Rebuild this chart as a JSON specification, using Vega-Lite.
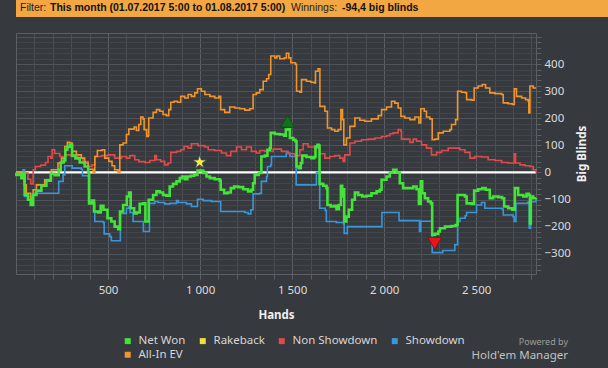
{
"$schema": "https://vega.github.io/schema/vega-lite/v6.json",
"background": "#36393d",
"padding": {"left": 0, "top": 0, "right": 0, "bottom": 10},
"spacing": 13,
"config": {
  "font": "Noto Sans",
  "view": {"stroke": null},
  "axis": {"labelFont": "Noto Sans", "titleFont": "Noto Sans"},
  "legend": {"labelFont": "Noto Sans"},
  "title": {"font": "Noto Sans", "subtitleFont": "Noto Sans"}
},
"datasets": {
  "lines": [
{"s":"Showdown","h":0,"v":0},{"s":"Showdown","h":33,"v":0},{"s":"Showdown","h":38,"v":10},{"s":"Showdown","h":47,"v":-89},{"s":"Showdown","h":93,"v":-85},{"s":"Showdown","h":98,"v":-77},{"s":"Showdown","h":228,"v":-77},{"s":"Showdown","h":232,"v":-33},{"s":"Showdown","h":256,"v":-9},{"s":"Showdown","h":265,"v":25},{"s":"Showdown","h":297,"v":25},{"s":"Showdown","h":305,"v":16},{"s":"Showdown","h":355,"v":12},{"s":"Showdown","h":361,"v":-12},{"s":"Showdown","h":392,"v":-15},{"s":"Showdown","h":395,"v":-107},{"s":"Showdown","h":424,"v":-114},{"s":"Showdown","h":428,"v":-181},{"s":"Showdown","h":473,"v":-185},{"s":"Showdown","h":479,"v":-227},{"s":"Showdown","h":509,"v":-237},{"s":"Showdown","h":518,"v":-252},{"s":"Showdown","h":562,"v":-252},{"s":"Showdown","h":567,"v":-151},{"s":"Showdown","h":600,"v":-132},{"s":"Showdown","h":614,"v":-126},{"s":"Showdown","h":620,"v":-148},{"s":"Showdown","h":636,"v":-181},{"s":"Showdown","h":685,"v":-181},{"s":"Showdown","h":692,"v":-218},{"s":"Showdown","h":721,"v":-218},{"s":"Showdown","h":725,"v":-114},{"s":"Showdown","h":754,"v":-107},{"s":"Showdown","h":772,"v":-111},{"s":"Showdown","h":808,"v":-116},{"s":"Showdown","h":835,"v":-114},{"s":"Showdown","h":872,"v":-104},{"s":"Showdown","h":881,"v":-111},{"s":"Showdown","h":926,"v":-116},{"s":"Showdown","h":953,"v":-126},{"s":"Showdown","h":980,"v":-126},{"s":"Showdown","h":986,"v":-99},{"s":"Showdown","h":1017,"v":-104},{"s":"Showdown","h":1062,"v":-107},{"s":"Showdown","h":1107,"v":-107},{"s":"Showdown","h":1112,"v":-144},{"s":"Showdown","h":1243,"v":-148},{"s":"Showdown","h":1261,"v":-153},{"s":"Showdown","h":1276,"v":-138},{"s":"Showdown","h":1288,"v":-79},{"s":"Showdown","h":1324,"v":-77},{"s":"Showdown","h":1333,"v":-33},{"s":"Showdown","h":1361,"v":-15},{"s":"Showdown","h":1366,"v":22},{"s":"Showdown","h":1384,"v":28},{"s":"Showdown","h":1388,"v":59},{"s":"Showdown","h":1460,"v":59},{"s":"Showdown","h":1468,"v":72},{"s":"Showdown","h":1488,"v":59},{"s":"Showdown","h":1518,"v":59},{"s":"Showdown","h":1522,"v":-46},{"s":"Showdown","h":1627,"v":-46},{"s":"Showdown","h":1632,"v":0},{"s":"Showdown","h":1645,"v":0},{"s":"Showdown","h":1650,"v":-132},{"s":"Showdown","h":1680,"v":-140},{"s":"Showdown","h":1686,"v":-181},{"s":"Showdown","h":1740,"v":-185},{"s":"Showdown","h":1780,"v":-190},{"s":"Showdown","h":1783,"v":-225},{"s":"Showdown","h":1800,"v":-200},{"s":"Showdown","h":1985,"v":-200},{"s":"Showdown","h":1988,"v":-148},{"s":"Showdown","h":2070,"v":-148},{"s":"Showdown","h":2081,"v":-178},{"s":"Showdown","h":2189,"v":-178},{"s":"Showdown","h":2192,"v":-218},{"s":"Showdown","h":2199,"v":-180},{"s":"Showdown","h":2258,"v":-182},{"s":"Showdown","h":2261,"v":-296},{"s":"Showdown","h":2318,"v":-288},{"s":"Showdown","h":2384,"v":-267},{"s":"Showdown","h":2399,"v":-181},{"s":"Showdown","h":2412,"v":-169},{"s":"Showdown","h":2440,"v":-160},{"s":"Showdown","h":2448,"v":-148},{"s":"Showdown","h":2495,"v":-148},{"s":"Showdown","h":2502,"v":-120},{"s":"Showdown","h":2529,"v":-111},{"s":"Showdown","h":2547,"v":-132},{"s":"Showdown","h":2640,"v":-135},{"s":"Showdown","h":2647,"v":-157},{"s":"Showdown","h":2700,"v":-163},{"s":"Showdown","h":2706,"v":-181},{"s":"Showdown","h":2716,"v":-114},{"s":"Showdown","h":2780,"v":-110},{"s":"Showdown","h":2788,"v":-206},{"s":"Showdown","h":2795,"v":-108},{"s":"Showdown","h":2825,"v":-100},
{"s":"Non Showdown","h":0,"v":0},{"s":"Non Showdown","h":29,"v":-15},{"s":"Non Showdown","h":47,"v":-2},{"s":"Non Showdown","h":65,"v":-25},{"s":"Non Showdown","h":80,"v":-42},{"s":"Non Showdown","h":93,"v":10},{"s":"Non Showdown","h":105,"v":22},{"s":"Non Showdown","h":134,"v":27},{"s":"Non Showdown","h":160,"v":37},{"s":"Non Showdown","h":174,"v":59},{"s":"Non Showdown","h":189,"v":53},{"s":"Non Showdown","h":196,"v":84},{"s":"Non Showdown","h":210,"v":70},{"s":"Non Showdown","h":238,"v":59},{"s":"Non Showdown","h":265,"v":65},{"s":"Non Showdown","h":301,"v":59},{"s":"Non Showdown","h":337,"v":53},{"s":"Non Showdown","h":364,"v":40},{"s":"Non Showdown","h":392,"v":22},{"s":"Non Showdown","h":413,"v":28},{"s":"Non Showdown","h":428,"v":59},{"s":"Non Showdown","h":464,"v":62},{"s":"Non Showdown","h":500,"v":65},{"s":"Non Showdown","h":536,"v":53},{"s":"Non Showdown","h":573,"v":59},{"s":"Non Showdown","h":600,"v":53},{"s":"Non Showdown","h":618,"v":62},{"s":"Non Showdown","h":645,"v":47},{"s":"Non Showdown","h":667,"v":40},{"s":"Non Showdown","h":700,"v":37},{"s":"Non Showdown","h":727,"v":44},{"s":"Non Showdown","h":754,"v":62},{"s":"Non Showdown","h":763,"v":47},{"s":"Non Showdown","h":786,"v":41},{"s":"Non Showdown","h":808,"v":28},{"s":"Non Showdown","h":826,"v":35},{"s":"Non Showdown","h":841,"v":74},{"s":"Non Showdown","h":872,"v":78},{"s":"Non Showdown","h":895,"v":84},{"s":"Non Showdown","h":913,"v":96},{"s":"Non Showdown","h":935,"v":90},{"s":"Non Showdown","h":953,"v":106},{"s":"Non Showdown","h":989,"v":99},{"s":"Non Showdown","h":1026,"v":94},{"s":"Non Showdown","h":1044,"v":84},{"s":"Non Showdown","h":1080,"v":81},{"s":"Non Showdown","h":1116,"v":72},{"s":"Non Showdown","h":1143,"v":62},{"s":"Non Showdown","h":1167,"v":78},{"s":"Non Showdown","h":1198,"v":94},{"s":"Non Showdown","h":1225,"v":84},{"s":"Non Showdown","h":1252,"v":94},{"s":"Non Showdown","h":1279,"v":78},{"s":"Non Showdown","h":1306,"v":72},{"s":"Non Showdown","h":1324,"v":81},{"s":"Non Showdown","h":1352,"v":78},{"s":"Non Showdown","h":1373,"v":78},{"s":"Non Showdown","h":1397,"v":86},{"s":"Non Showdown","h":1442,"v":78},{"s":"Non Showdown","h":1478,"v":69},{"s":"Non Showdown","h":1515,"v":62},{"s":"Non Showdown","h":1542,"v":84},{"s":"Non Showdown","h":1560,"v":106},{"s":"Non Showdown","h":1587,"v":94},{"s":"Non Showdown","h":1623,"v":90},{"s":"Non Showdown","h":1651,"v":69},{"s":"Non Showdown","h":1678,"v":53},{"s":"Non Showdown","h":1705,"v":59},{"s":"Non Showdown","h":1732,"v":62},{"s":"Non Showdown","h":1759,"v":53},{"s":"Non Showdown","h":1777,"v":41},{"s":"Non Showdown","h":1786,"v":65},{"s":"Non Showdown","h":1814,"v":109},{"s":"Non Showdown","h":1841,"v":115},{"s":"Non Showdown","h":1877,"v":121},{"s":"Non Showdown","h":1913,"v":123},{"s":"Non Showdown","h":1950,"v":127},{"s":"Non Showdown","h":1986,"v":133},{"s":"Non Showdown","h":2013,"v":136},{"s":"Non Showdown","h":2031,"v":143},{"s":"Non Showdown","h":2049,"v":146},{"s":"Non Showdown","h":2076,"v":158},{"s":"Non Showdown","h":2091,"v":152},{"s":"Non Showdown","h":2094,"v":123},{"s":"Non Showdown","h":2112,"v":123},{"s":"Non Showdown","h":2140,"v":111},{"s":"Non Showdown","h":2158,"v":123},{"s":"Non Showdown","h":2176,"v":115},{"s":"Non Showdown","h":2203,"v":102},{"s":"Non Showdown","h":2230,"v":90},{"s":"Non Showdown","h":2257,"v":65},{"s":"Non Showdown","h":2285,"v":74},{"s":"Non Showdown","h":2312,"v":81},{"s":"Non Showdown","h":2348,"v":90},{"s":"Non Showdown","h":2384,"v":90},{"s":"Non Showdown","h":2411,"v":84},{"s":"Non Showdown","h":2439,"v":74},{"s":"Non Showdown","h":2466,"v":53},{"s":"Non Showdown","h":2493,"v":59},{"s":"Non Showdown","h":2529,"v":57},{"s":"Non Showdown","h":2565,"v":47},{"s":"Non Showdown","h":2602,"v":44},{"s":"Non Showdown","h":2638,"v":37},{"s":"Non Showdown","h":2674,"v":35},{"s":"Non Showdown","h":2701,"v":35},{"s":"Non Showdown","h":2707,"v":69},{"s":"Non Showdown","h":2714,"v":35},{"s":"Non Showdown","h":2738,"v":28},{"s":"Non Showdown","h":2765,"v":25},{"s":"Non Showdown","h":2792,"v":22},{"s":"Non Showdown","h":2810,"v":10},{"s":"Non Showdown","h":2825,"v":0},
{"s":"All-In EV","h":0,"v":0},{"s":"All-In EV","h":29,"v":-15},{"s":"All-In EV","h":44,"v":-46},{"s":"All-In EV","h":56,"v":-77},{"s":"All-In EV","h":80,"v":-95},{"s":"All-In EV","h":93,"v":-64},{"s":"All-In EV","h":111,"v":-46},{"s":"All-In EV","h":156,"v":-27},{"s":"All-In EV","h":192,"v":10},{"s":"All-In EV","h":228,"v":35},{"s":"All-In EV","h":247,"v":53},{"s":"All-In EV","h":265,"v":96},{"s":"All-In EV","h":279,"v":111},{"s":"All-In EV","h":292,"v":109},{"s":"All-In EV","h":305,"v":78},{"s":"All-In EV","h":328,"v":65},{"s":"All-In EV","h":355,"v":53},{"s":"All-In EV","h":373,"v":35},{"s":"All-In EV","h":392,"v":12},{"s":"All-In EV","h":419,"v":-2},{"s":"All-In EV","h":428,"v":59},{"s":"All-In EV","h":442,"v":81},{"s":"All-In EV","h":468,"v":84},{"s":"All-In EV","h":482,"v":53},{"s":"All-In EV","h":504,"v":41},{"s":"All-In EV","h":522,"v":25},{"s":"All-In EV","h":536,"v":10},{"s":"All-In EV","h":555,"v":0},{"s":"All-In EV","h":564,"v":102},{"s":"All-In EV","h":582,"v":109},{"s":"All-In EV","h":600,"v":140},{"s":"All-In EV","h":613,"v":160},{"s":"All-In EV","h":642,"v":168},{"s":"All-In EV","h":654,"v":155},{"s":"All-In EV","h":667,"v":177},{"s":"All-In EV","h":678,"v":205},{"s":"All-In EV","h":690,"v":198},{"s":"All-In EV","h":696,"v":158},{"s":"All-In EV","h":710,"v":133},{"s":"All-In EV","h":718,"v":136},{"s":"All-In EV","h":721,"v":201},{"s":"All-In EV","h":745,"v":222},{"s":"All-In EV","h":763,"v":232},{"s":"All-In EV","h":781,"v":226},{"s":"All-In EV","h":799,"v":214},{"s":"All-In EV","h":817,"v":210},{"s":"All-In EV","h":830,"v":232},{"s":"All-In EV","h":841,"v":259},{"s":"All-In EV","h":859,"v":263},{"s":"All-In EV","h":877,"v":259},{"s":"All-In EV","h":895,"v":281},{"s":"All-In EV","h":917,"v":275},{"s":"All-In EV","h":935,"v":288},{"s":"All-In EV","h":953,"v":281},{"s":"All-In EV","h":971,"v":294},{"s":"All-In EV","h":986,"v":309},{"s":"All-In EV","h":1007,"v":300},{"s":"All-In EV","h":1026,"v":288},{"s":"All-In EV","h":1053,"v":281},{"s":"All-In EV","h":1080,"v":275},{"s":"All-In EV","h":1102,"v":281},{"s":"All-In EV","h":1112,"v":232},{"s":"All-In EV","h":1134,"v":222},{"s":"All-In EV","h":1161,"v":242},{"s":"All-In EV","h":1189,"v":238},{"s":"All-In EV","h":1216,"v":235},{"s":"All-In EV","h":1243,"v":230},{"s":"All-In EV","h":1270,"v":235},{"s":"All-In EV","h":1283,"v":235},{"s":"All-In EV","h":1288,"v":288},{"s":"All-In EV","h":1306,"v":294},{"s":"All-In EV","h":1324,"v":306},{"s":"All-In EV","h":1343,"v":337},{"s":"All-In EV","h":1361,"v":346},{"s":"All-In EV","h":1373,"v":362},{"s":"All-In EV","h":1384,"v":430},{"s":"All-In EV","h":1406,"v":423},{"s":"All-In EV","h":1417,"v":430},{"s":"All-In EV","h":1433,"v":420},{"s":"All-In EV","h":1457,"v":423},{"s":"All-In EV","h":1469,"v":440},{"s":"All-In EV","h":1482,"v":423},{"s":"All-In EV","h":1493,"v":405},{"s":"All-In EV","h":1518,"v":399},{"s":"All-In EV","h":1524,"v":300},{"s":"All-In EV","h":1542,"v":296},{"s":"All-In EV","h":1551,"v":343},{"s":"All-In EV","h":1578,"v":337},{"s":"All-In EV","h":1602,"v":333},{"s":"All-In EV","h":1620,"v":331},{"s":"All-In EV","h":1627,"v":374},{"s":"All-In EV","h":1641,"v":383},{"s":"All-In EV","h":1651,"v":244},{"s":"All-In EV","h":1678,"v":226},{"s":"All-In EV","h":1692,"v":164},{"s":"All-In EV","h":1714,"v":158},{"s":"All-In EV","h":1732,"v":152},{"s":"All-In EV","h":1750,"v":158},{"s":"All-In EV","h":1765,"v":232},{"s":"All-In EV","h":1774,"v":195},{"s":"All-In EV","h":1781,"v":102},{"s":"All-In EV","h":1795,"v":127},{"s":"All-In EV","h":1814,"v":170},{"s":"All-In EV","h":1841,"v":201},{"s":"All-In EV","h":1868,"v":193},{"s":"All-In EV","h":1895,"v":189},{"s":"All-In EV","h":1931,"v":198},{"s":"All-In EV","h":1968,"v":210},{"s":"All-In EV","h":1986,"v":232},{"s":"All-In EV","h":2013,"v":242},{"s":"All-In EV","h":2040,"v":263},{"s":"All-In EV","h":2058,"v":256},{"s":"All-In EV","h":2076,"v":238},{"s":"All-In EV","h":2091,"v":207},{"s":"All-In EV","h":2112,"v":201},{"s":"All-In EV","h":2140,"v":195},{"s":"All-In EV","h":2167,"v":205},{"s":"All-In EV","h":2189,"v":183},{"s":"All-In EV","h":2199,"v":235},{"s":"All-In EV","h":2218,"v":226},{"s":"All-In EV","h":2230,"v":205},{"s":"All-In EV","h":2248,"v":198},{"s":"All-In EV","h":2261,"v":121},{"s":"All-In EV","h":2276,"v":123},{"s":"All-In EV","h":2294,"v":146},{"s":"All-In EV","h":2321,"v":152},{"s":"All-In EV","h":2357,"v":158},{"s":"All-In EV","h":2366,"v":177},{"s":"All-In EV","h":2388,"v":195},{"s":"All-In EV","h":2399,"v":300},{"s":"All-In EV","h":2420,"v":296},{"s":"All-In EV","h":2442,"v":294},{"s":"All-In EV","h":2448,"v":269},{"s":"All-In EV","h":2475,"v":267},{"s":"All-In EV","h":2489,"v":312},{"s":"All-In EV","h":2511,"v":319},{"s":"All-In EV","h":2533,"v":325},{"s":"All-In EV","h":2551,"v":312},{"s":"All-In EV","h":2574,"v":294},{"s":"All-In EV","h":2602,"v":291},{"s":"All-In EV","h":2638,"v":288},{"s":"All-In EV","h":2647,"v":257},{"s":"All-In EV","h":2674,"v":254},{"s":"All-In EV","h":2696,"v":251},{"s":"All-In EV","h":2707,"v":309},{"s":"All-In EV","h":2719,"v":281},{"s":"All-In EV","h":2747,"v":275},{"s":"All-In EV","h":2768,"v":269},{"s":"All-In EV","h":2783,"v":263},{"s":"All-In EV","h":2786,"v":220},{"s":"All-In EV","h":2792,"v":319},{"s":"All-In EV","h":2810,"v":312},{"s":"All-In EV","h":2825,"v":312},
{"s":"Net Won","h":0,"v":0},{"s":"Net Won","h":2,"v":-9},{"s":"Net Won","h":29,"v":-21},{"s":"Net Won","h":40,"v":-2},{"s":"Net Won","h":47,"v":-83},{"s":"Net Won","h":65,"v":-101},{"s":"Net Won","h":80,"v":-120},{"s":"Net Won","h":93,"v":-83},{"s":"Net Won","h":111,"v":-67},{"s":"Net Won","h":138,"v":-49},{"s":"Net Won","h":165,"v":-30},{"s":"Net Won","h":189,"v":-5},{"s":"Net Won","h":210,"v":-10},{"s":"Net Won","h":232,"v":10},{"s":"Net Won","h":243,"v":37},{"s":"Net Won","h":259,"v":44},{"s":"Net Won","h":268,"v":84},{"s":"Net Won","h":279,"v":94},{"s":"Net Won","h":292,"v":102},{"s":"Net Won","h":305,"v":62},{"s":"Net Won","h":323,"v":52},{"s":"Net Won","h":346,"v":37},{"s":"Net Won","h":373,"v":22},{"s":"Net Won","h":392,"v":0},{"s":"Net Won","h":397,"v":-114},{"s":"Net Won","h":413,"v":-104},{"s":"Net Won","h":424,"v":-144},{"s":"Net Won","h":446,"v":-148},{"s":"Net Won","h":460,"v":-123},{"s":"Net Won","h":475,"v":-138},{"s":"Net Won","h":497,"v":-169},{"s":"Net Won","h":518,"v":-181},{"s":"Net Won","h":536,"v":-200},{"s":"Net Won","h":555,"v":-210},{"s":"Net Won","h":565,"v":-144},{"s":"Net Won","h":582,"v":-120},{"s":"Net Won","h":602,"v":-89},{"s":"Net Won","h":614,"v":-74},{"s":"Net Won","h":623,"v":-132},{"s":"Net Won","h":642,"v":-151},{"s":"Net Won","h":656,"v":-148},{"s":"Net Won","h":672,"v":-116},{"s":"Net Won","h":692,"v":-114},{"s":"Net Won","h":703,"v":-181},{"s":"Net Won","h":718,"v":-181},{"s":"Net Won","h":721,"v":-101},{"s":"Net Won","h":745,"v":-83},{"s":"Net Won","h":763,"v":-70},{"s":"Net Won","h":781,"v":-74},{"s":"Net Won","h":799,"v":-83},{"s":"Net Won","h":817,"v":-86},{"s":"Net Won","h":835,"v":-52},{"s":"Net Won","h":853,"v":-42},{"s":"Net Won","h":872,"v":-33},{"s":"Net Won","h":890,"v":-21},{"s":"Net Won","h":902,"v":-15},{"s":"Net Won","h":917,"v":-25},{"s":"Net Won","h":931,"v":-15},{"s":"Net Won","h":950,"v":-12},{"s":"Net Won","h":968,"v":-9},{"s":"Net Won","h":986,"v":7},{"s":"Net Won","h":1004,"v":7},{"s":"Net Won","h":1017,"v":-2},{"s":"Net Won","h":1035,"v":-15},{"s":"Net Won","h":1053,"v":-21},{"s":"Net Won","h":1080,"v":-25},{"s":"Net Won","h":1107,"v":-30},{"s":"Net Won","h":1112,"v":-64},{"s":"Net Won","h":1131,"v":-77},{"s":"Net Won","h":1149,"v":-74},{"s":"Net Won","h":1167,"v":-58},{"s":"Net Won","h":1185,"v":-52},{"s":"Net Won","h":1207,"v":-54},{"s":"Net Won","h":1234,"v":-62},{"s":"Net Won","h":1261,"v":-70},{"s":"Net Won","h":1279,"v":-64},{"s":"Net Won","h":1288,"v":-40},{"s":"Net Won","h":1297,"v":-9},{"s":"Net Won","h":1319,"v":-2},{"s":"Net Won","h":1333,"v":59},{"s":"Net Won","h":1352,"v":62},{"s":"Net Won","h":1366,"v":84},{"s":"Net Won","h":1379,"v":90},{"s":"Net Won","h":1384,"v":146},{"s":"Net Won","h":1406,"v":142},{"s":"Net Won","h":1433,"v":140},{"s":"Net Won","h":1457,"v":136},{"s":"Net Won","h":1466,"v":158},{"s":"Net Won","h":1478,"v":160},{"s":"Net Won","h":1488,"v":127},{"s":"Net Won","h":1506,"v":121},{"s":"Net Won","h":1518,"v":115},{"s":"Net Won","h":1524,"v":22},{"s":"Net Won","h":1536,"v":16},{"s":"Net Won","h":1547,"v":35},{"s":"Net Won","h":1555,"v":62},{"s":"Net Won","h":1578,"v":57},{"s":"Net Won","h":1605,"v":53},{"s":"Net Won","h":1620,"v":57},{"s":"Net Won","h":1627,"v":96},{"s":"Net Won","h":1638,"v":102},{"s":"Net Won","h":1645,"v":99},{"s":"Net Won","h":1649,"v":-42},{"s":"Net Won","h":1669,"v":-49},{"s":"Net Won","h":1687,"v":-58},{"s":"Net Won","h":1692,"v":-120},{"s":"Net Won","h":1710,"v":-126},{"s":"Net Won","h":1728,"v":-123},{"s":"Net Won","h":1741,"v":-136},{"s":"Net Won","h":1754,"v":-120},{"s":"Net Won","h":1765,"v":-49},{"s":"Net Won","h":1772,"v":-89},{"s":"Net Won","h":1779,"v":-62},{"s":"Net Won","h":1783,"v":-181},{"s":"Net Won","h":1795,"v":-163},{"s":"Net Won","h":1808,"v":-138},{"s":"Net Won","h":1826,"v":-101},{"s":"Net Won","h":1841,"v":-74},{"s":"Net Won","h":1859,"v":-83},{"s":"Net Won","h":1881,"v":-89},{"s":"Net Won","h":1904,"v":-86},{"s":"Net Won","h":1931,"v":-77},{"s":"Net Won","h":1959,"v":-70},{"s":"Net Won","h":1977,"v":-64},{"s":"Net Won","h":1986,"v":-27},{"s":"Net Won","h":2013,"v":-15},{"s":"Net Won","h":2031,"v":0},{"s":"Net Won","h":2049,"v":10},{"s":"Net Won","h":2067,"v":0},{"s":"Net Won","h":2085,"v":-40},{"s":"Net Won","h":2103,"v":-58},{"s":"Net Won","h":2140,"v":-58},{"s":"Net Won","h":2158,"v":-52},{"s":"Net Won","h":2176,"v":-62},{"s":"Net Won","h":2189,"v":-116},{"s":"Net Won","h":2199,"v":-33},{"s":"Net Won","h":2207,"v":-77},{"s":"Net Won","h":2221,"v":-95},{"s":"Net Won","h":2239,"v":-107},{"s":"Net Won","h":2254,"v":-114},{"s":"Net Won","h":2261,"v":-231},{"s":"Net Won","h":2276,"v":-227},{"s":"Net Won","h":2294,"v":-218},{"s":"Net Won","h":2303,"v":-206},{"s":"Net Won","h":2330,"v":-200},{"s":"Net Won","h":2366,"v":-198},{"s":"Net Won","h":2388,"v":-194},{"s":"Net Won","h":2399,"v":-83},{"s":"Net Won","h":2420,"v":-83},{"s":"Net Won","h":2439,"v":-89},{"s":"Net Won","h":2448,"v":-114},{"s":"Net Won","h":2475,"v":-116},{"s":"Net Won","h":2489,"v":-67},{"s":"Net Won","h":2511,"v":-62},{"s":"Net Won","h":2533,"v":-58},{"s":"Net Won","h":2551,"v":-64},{"s":"Net Won","h":2574,"v":-95},{"s":"Net Won","h":2592,"v":-89},{"s":"Net Won","h":2620,"v":-91},{"s":"Net Won","h":2641,"v":-95},{"s":"Net Won","h":2652,"v":-126},{"s":"Net Won","h":2674,"v":-132},{"s":"Net Won","h":2696,"v":-138},{"s":"Net Won","h":2710,"v":-58},{"s":"Net Won","h":2728,"v":-83},{"s":"Net Won","h":2756,"v":-89},{"s":"Net Won","h":2774,"v":-79},{"s":"Net Won","h":2786,"v":-83},{"s":"Net Won","h":2792,"v":-188},{"s":"Net Won","h":2797,"v":-89},{"s":"Net Won","h":2810,"v":-95},{"s":"Net Won","h":2825,"v":-94}
  ]
},
"vconcat": [
  {
    "spacing": 0,
    "hconcat": [
      {"width": 33, "height": 17, "view": {"fill": "#f2a743", "stroke": null},
       "data": {"values": [{"t": ""}]}, "mark": {"type": "text"},
       "encoding": {"text": {"field": "t", "type": "nominal"}},
       "title": {"text": "Filter:", "orient": "top", "anchor": "start", "frame": "group", "offset": -13, "dx": 4, "font": "Liberation Sans", "fontSize": 10.5, "fontWeight": "normal", "color": "#1e1e1e"}},
      {"width": 241, "height": 17, "view": {"fill": "#f2a743", "stroke": null},
       "data": {"values": [{"t": ""}]}, "mark": {"type": "text"},
       "encoding": {"text": {"field": "t", "type": "nominal"}},
       "title": {"text": "This month (01.07.2017 5:00 to 01.08.2017 5:00)", "orient": "top", "anchor": "start", "frame": "group", "offset": -13, "dx": 1, "font": "Liberation Sans", "fontSize": 10.5, "fontWeight": "bold", "color": "#111111"}},
      {"width": 51, "height": 17, "view": {"fill": "#f2a743", "stroke": null},
       "data": {"values": [{"t": ""}]}, "mark": {"type": "text"},
       "encoding": {"text": {"field": "t", "type": "nominal"}},
       "title": {"text": "Winnings:", "orient": "top", "anchor": "start", "frame": "group", "offset": -13, "dx": 1, "font": "Liberation Sans", "fontSize": 10.5, "fontWeight": "normal", "color": "#1e1e1e"}},
      {"width": 283, "height": 17, "view": {"fill": "#f2a743", "stroke": null},
       "data": {"values": [{"t": ""}]}, "mark": {"type": "text"},
       "encoding": {"text": {"field": "t", "type": "nominal"}},
       "title": {"text": "-94,4 big blinds", "orient": "top", "anchor": "start", "frame": "group", "offset": -13, "dx": 1, "font": "Liberation Sans", "fontSize": 10.5, "fontWeight": "bold", "color": "#111111"}}
    ]
  },
  {
    "width": 520,
    "height": 241,
    "view": {"stroke": "#5c5f63", "strokeWidth": 1},
    "title": {"text": "Powered by", "subtitle": "Hold'em Manager", "orient": "bottom", "anchor": "end", "frame": "group", "align": "right", "dx": 32, "offset": 17, "fontSize": 9, "fontWeight": "normal", "color": "#9c9c9c", "subtitleFontSize": 11.5, "subtitleColor": "#c2c2c2", "subtitlePadding": 3},
    "resolve": {"axis": {"y": "independent", "x": "independent"}},
    "layer": [
      {
        "data": {"values": [{"z": 0}]},
        "mark": {"type": "rule", "color": "#ffffff", "strokeWidth": 2.2},
        "encoding": {
          "y": {"field": "z", "type": "quantitative",
                "scale": {"domain": [-375, 515], "nice": false, "zero": false},
                "axis": {"orient": "left", "labels": false, "ticks": false, "domain": true, "domainColor": "#5c5f63", "grid": false, "title": null, "minExtent": 15, "maxExtent": 15}}
        }
      },
      {
        "data": {"name": "lines"},
        "transform": [{"filter": "datum.s !== 'Net Won'"}],
        "mark": {"type": "line", "interpolate": "step-after", "strokeWidth": 1.6},
        "encoding": {
          "x": {"field": "h", "type": "quantitative",
                "scale": {"domain": [0, 2825], "nice": false, "zero": false},
                "axis": {"orient": "bottom",
                         "values": [100,200,300,400,500,600,700,800,900,1000,1100,1200,1300,1400,1500,1600,1700,1800,1900,2000,2100,2200,2300,2400,2500,2600,2700,2800],
                         "labels": false,
                         "grid": true,
                         "gridColor": {"condition": {"test": "datum.value % 500 === 0", "value": "#5d6064"}, "value": "#4b4e52"},
                         "ticks": true, "tickSize": 5, "tickColor": "#5c5f63", "domain": false,
                         "title": null}},
          "y": {"field": "v", "type": "quantitative",
                "scale": {"domain": [-375, 515], "nice": false, "zero": false},
                "axis": {"orient": "right",
                         "values": [-360,-340,-320,-300,-280,-260,-240,-220,-200,-180,-160,-140,-120,-100,-80,-60,-40,-20,0,20,40,60,80,100,120,140,160,180,200,220,240,260,280,300,320,340,360,380,400,420,440,460,480,500],
                         "labelExpr": "datum.value % 100 === 0 && datum.value < 500 ? datum.label : ''",
                         "labelOverlap": false, "labelColor": "#dcdcdc", "labelFontSize": 11.5, "labelPadding": 3,
                         "grid": true,
                         "gridColor": {"condition": {"test": "datum.value % 100 === 0", "value": "#505357"}, "value": "#424549"},
                         "ticks": true, "tickColor": "#5c5f63", "tickSize": 5,
                         "domain": false,
                         "title": "Big Blinds", "titleAngle": 270, "titleColor": "#f0f0f0", "titleFontSize": 11.5, "titleFontWeight": "bold", "titlePadding": 17}},
          "color": {"field": "s", "type": "nominal",
                    "scale": {"domain": ["Net Won", "Rakeback", "Non Showdown", "Showdown", "All-In EV"],
                              "range": ["#43e33a", "#f0e03c", "#e04a4a", "#3897dc", "#f0952c"]},
                    "legend": {"orient": "none", "legendX": 106, "legendY": 335, "direction": "horizontal", "columns": 4, "title": null,
                               "symbolType": "square", "symbolSize": 9, "symbolStrokeWidth": 3,
                               "labelColor": "#d6d6d6", "labelFontSize": 11.5, "labelOffset": 5, "columnPadding": 9, "rowPadding": -2, "padding": 0}}
        }
      },
      {
        "data": {"name": "lines"},
        "transform": [{"filter": "datum.s === 'Net Won'"}],
        "mark": {"type": "line", "interpolate": "step-after", "strokeWidth": 2.6},
        "encoding": {
          "x": {"field": "h", "type": "quantitative",
                "axis": {"orient": "bottom",
                         "values": [500, 1000, 1500, 2000, 2500],
                         "labelExpr": "replace(format(datum.value, ','), ',', ' ')",
                         "labelOverlap": false, "labelColor": "#dcdcdc", "labelFontSize": 11.5, "labelPadding": 5,
                         "grid": false, "ticks": true, "tickSize": 5, "tickColor": "#5c5f63", "domain": false,
                         "title": "Hands", "titleColor": "#f0f0f0", "titleFontSize": 11.5, "titleFontWeight": "bold", "titlePadding": 14}},
          "y": {"field": "v", "type": "quantitative", "axis": null},
          "color": {"field": "s", "type": "nominal"}
        }
      },
      {
        "data": {"values": [{"h": 998, "v": 38}]},
        "mark": {"type": "point", "shape": "M0,-1L0.2245,-0.309L0.9511,-0.309L0.3633,0.118L0.5878,0.809L0,0.382L-0.5878,0.809L-0.3633,0.118L-0.9511,-0.309L-0.2245,-0.309Z", "filled": true, "size": 200, "fill": "#fff030", "stroke": "#3c4a80", "strokeWidth": 0.8, "opacity": 1},
        "encoding": {"x": {"field": "h", "type": "quantitative", "axis": null}, "y": {"field": "v", "type": "quantitative", "axis": null}}
      },
      {
        "data": {"values": [{"h": 1476, "v": 189}]},
        "mark": {"type": "point", "shape": "triangle-up", "filled": true, "size": 190, "fill": "#12701e", "stroke": "#0a4a12", "strokeWidth": 0.8, "opacity": 1},
        "encoding": {"x": {"field": "h", "type": "quantitative", "axis": null}, "y": {"field": "v", "type": "quantitative", "axis": null}}
      },
      {
        "data": {"values": [{"h": 2275, "v": -262}]},
        "mark": {"type": "point", "shape": "triangle-down", "filled": true, "size": 190, "fill": "#e8161b", "stroke": "#8a0a0a", "strokeWidth": 0.8, "opacity": 1},
        "encoding": {"x": {"field": "h", "type": "quantitative", "axis": null}, "y": {"field": "v", "type": "quantitative", "axis": null}}
      }
    ]
  }
]
}
